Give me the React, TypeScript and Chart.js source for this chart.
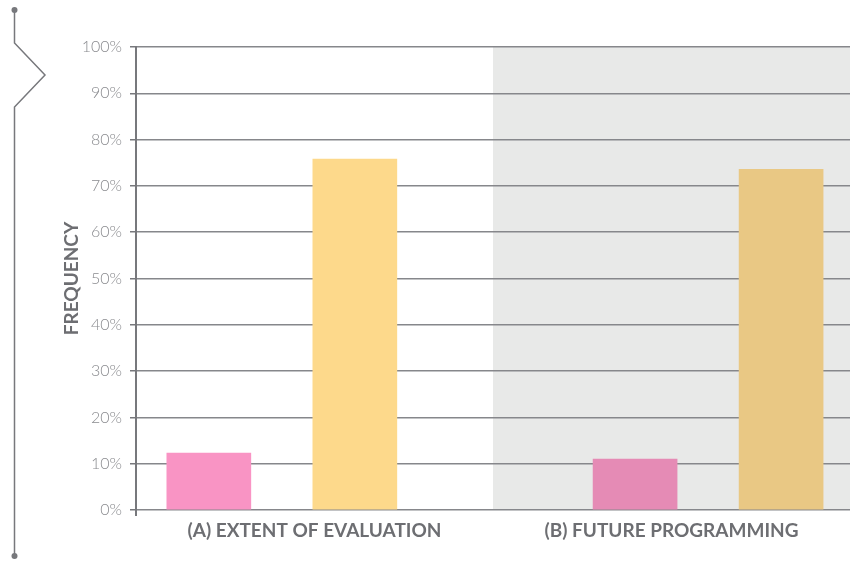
import React, { useEffect, useRef } from 'react';
import { Chart, registerables } from 'chart.js';

Chart.register(...registerables);

// ---- data ----
const categories = ['(A) EXTENT OF EVALUATION', '(B) FUTURE PROGRAMMING'];
const seriesNames = ['Series 1', 'Series 2'];
const pinkValues = [12.3, 11.0];
const yellowValues = [75.8, 73.6];
const yTickValues = [0, 10, 20, 30, 40, 50, 60, 70, 80, 90, 100];
const yAxisTitle = 'FREQUENCY';

// ---- layout (bar placement inside each category, in category units) ----
const pinkSlot = [0.204, 0.398];
const yellowSlot = [0.613, 0.807];

// ---- styles ----
const pinkColors = ['#F994C4', '#E58BB5'];
const yellowColors = ['#FDD98B', '#E9C884'];
const shadeColor = '#E8E9E8';
const lineColor = '#86878B';
const axisColor = '#77787C';

const shadePlugin = {
  id: 'shade',
  beforeDraw(chart: any) {
    const { ctx, chartArea, scales } = chart;
    const x = scales.x;
    const left = x.getPixelForValue(1);
    ctx.save();
    ctx.fillStyle = shadeColor;
    ctx.fillRect(left, chartArea.top, chartArea.right - left, chartArea.bottom - chartArea.top);
    ctx.restore();
  },
  afterDraw(chart: any) {
    const { ctx, chartArea } = chart;
    ctx.save();
    ctx.strokeStyle = axisColor;
    ctx.lineWidth = 2;
    ctx.beginPath();
    ctx.moveTo(chartArea.left, chartArea.bottom);
    ctx.lineTo(chartArea.left, chartArea.bottom + 6);
    ctx.stroke();
    // left decoration
    ctx.lineWidth = 1.5;
    ctx.beginPath();
    ctx.moveTo(14.5, 10);
    ctx.lineTo(14.5, 43);
    ctx.lineTo(45, 75);
    ctx.lineTo(14.5, 107);
    ctx.lineTo(14.5, 556);
    ctx.stroke();
    ctx.fillStyle = axisColor;
    ctx.beginPath();
    ctx.arc(14.5, 10, 3, 0, Math.PI * 2);
    ctx.fill();
    ctx.beginPath();
    ctx.arc(14.5, 556, 3, 0, Math.PI * 2);
    ctx.fill();
    ctx.restore();
  },
};

export default function App() {
  const ref = useRef<HTMLCanvasElement>(null);
  useEffect(() => {
    document.body.style.margin = '0';
    if (!ref.current) return;
    const chart = new Chart(ref.current, {
      type: 'bar',
      data: {
        datasets: [
          {
            label: seriesNames[0],
            data: pinkValues.map((v, i) => ({ x: i + pinkSlot[i], y: v })),
            backgroundColor: pinkColors,
            barThickness: 84,
            grouped: false,
          },
          {
            label: seriesNames[1],
            data: yellowValues.map((v, i) => ({ x: i + yellowSlot[i], y: v })),
            backgroundColor: yellowColors,
            barThickness: 84,
            grouped: false,
          },
        ],
      },
      plugins: [shadePlugin],
      options: {
        animation: false,
        responsive: true,
        maintainAspectRatio: false,
        layout: { padding: { left: 60, top: 47, right: 0, bottom: 0 } },
        plugins: { legend: { display: false }, tooltip: { enabled: false } },
        scales: {
          x: {
            type: 'linear',
            min: 0,
            max: categories.length,
            offset: false,
            grid: { display: false },
            border: { display: false },
            afterBuildTicks: (scale: any) => {
              scale.ticks = categories.map((_, i) => ({ value: i + 0.5 }));
            },
            afterFit: (scale: any) => {
              scale.height = 51;
            },
            ticks: {
              autoSkip: false,
              maxRotation: 0,
              padding: 1,
              color: '#6D6E72',
              font: { family: 'Lato', size: 19, weight: 'bold' },
              callback: (v: any) => categories[Math.floor(Number(v))],
            },
          },
          y: {
            min: 0,
            max: 100,
            z: 1,
            afterBuildTicks: (scale: any) => {
              scale.ticks = yTickValues.map((v) => ({ value: v }));
            },
            afterFit: (scale: any) => {
              scale.width = 76;
            },
            grid: {
              color: lineColor,
              lineWidth: 1.5,
              drawTicks: true,
              tickLength: 6,
              tickColor: axisColor,
              tickWidth: 1.5,
            },
            border: { display: true, color: axisColor, width: 2 },
            title: {
              display: true,
              text: yAxisTitle,
              color: '#6D6E72',
              font: { family: 'Lato', size: 19, weight: 'bold' },
              padding: { top: 0, bottom: 0 },
            },
            ticks: {
              padding: 8,
              color: '#8A8B8F',
              font: { family: 'Lato', size: 16, weight: '300' },
              callback: (v: any) => v + '%',
            },
          },
        },
      },
    } as any);
    return () => chart.destroy();
  }, []);
  return (
    <div style={{ width: 850, height: 561, position: 'relative' }}>
      <canvas ref={ref} />
    </div>
  );
}
